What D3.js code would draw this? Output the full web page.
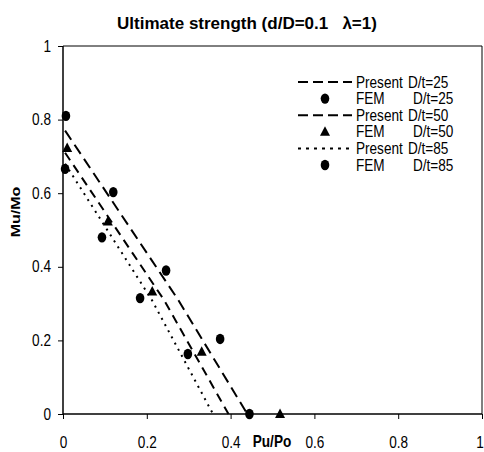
<!DOCTYPE html>
<html lang="en">
  <head>
    <meta charset="UTF-8" />
    <title>Ultimate strength</title>
    <style>
      body { margin: 0; background: #fff; }
      text { font-family: Arial, "Liberation Sans", sans-serif; fill: #000; white-space: pre; }
      .bold { font-weight: bold; }
    </style>
  </head>
  <body>
    <div id="chart"></div>
    <script src="https://d3js.org/d3.v7.min.js"></script>
    <script>
      // tick values
      var xTicks = [0, 0.2, 0.4, 0.6, 0.8, 1];
      var yTicks = [0, 0.2, 0.4, 0.6, 0.8, 1];

      // Present (analytical) curves, [Pu/Po, Mu/Mo]
      var present25 = [[0.005, 0.77], [0.275, 0.31], [0.44, 0]];
      var present50 = [[0.005, 0.71], [0.241, 0.31], [0.395, 0]];
      var present85 = [[0.005, 0.68], [0.212, 0.31], [0.358, 0]];

      // FEM points
      var fem25 = [[0.007, 0.81], [0.12, 0.603], [0.246, 0.39], [0.375, 0.204], [0.445, 0]];
      var fem50 = [[0.01, 0.723], [0.107, 0.523], [0.213, 0.333], [0.331, 0.169], [0.518, 0]];
      var fem85 = [[0.005, 0.666], [0.093, 0.48], [0.184, 0.315], [0.298, 0.163]];

      var legendItems = [
        { kind: "line", dash: "10,5", label: "Present", dt: "D/t=25" },
        { kind: "circle", label: "FEM", dt: "D/t=25" },
        { kind: "line", dash: "10,5", label: "Present", dt: "D/t=50" },
        { kind: "triangle", label: "FEM", dt: "D/t=50" },
        { kind: "line", dash: "3,5", label: "Present", dt: "D/t=85" },
        { kind: "circle", label: "FEM", dt: "D/t=85" }
      ];

      var sx = 0.85; // the original text is horizontally condensed

      var margin = { top: 46, right: 2, bottom: 38, left: 63 },
          width = 484 - margin.left - margin.right,
          height = 452 - margin.top - margin.bottom;

      var svg = d3.select("#chart").append("svg")
          .attr("width", 484)
          .attr("height", 452);

      function narrowText(parent, px, py, str, size) {
        return parent.append("text")
            .attr("x", px / sx).attr("y", py)
            .attr("transform", "scale(" + sx + ",1)")
            .attr("font-size", size)
            .text(str);
      }

      var g = svg.append("g")
          .attr("transform", "translate(" + margin.left + "," + margin.top + ")");

      var x = d3.scaleLinear().domain([0, 1]).range([0, width]);
      var y = d3.scaleLinear().domain([0, 1]).range([height, 0]);

      // box (top and right)
      g.append("path")
          .attr("d", "M0,0H" + width + "V" + height)
          .attr("fill", "none")
          .attr("stroke", "#000")
          .attr("stroke-width", 1);

      var fmt = function(d) { return d === 0 || d === 1 ? d : d.toFixed(1); };

      var xAxis = g.append("g")
          .attr("transform", "translate(0," + height + ")")
          .call(d3.axisBottom(x).tickValues(xTicks).tickSize(5).tickPadding(18).tickFormat(fmt));
      var yAxis = g.append("g")
          .call(d3.axisLeft(y).tickValues(yTicks).tickSize(5).tickPadding(7).tickFormat(fmt));

      xAxis.select(".domain").attr("stroke-width", 1.5).attr("d", "M0,0H" + width);
      yAxis.select(".domain").attr("stroke-width", 1.5).attr("d", "M0,0V" + height);
      [xAxis, yAxis].forEach(function(a) {
        a.attr("font-family", null).attr("font-size", null);
        a.selectAll(".tick line").attr("stroke-width", 1);
        a.selectAll(".tick text").attr("font-size", 16)
            .attr("transform", "scale(" + sx + ",1)");
      });
      yAxis.selectAll(".tick text").attr("x", -12 / sx);
      xAxis.selectAll(".tick text").filter(function(d) { return d === 1; }).attr("x", -2.5 / sx);

      var line = d3.line()
          .x(function(d) { return x(d[0]); })
          .y(function(d) { return y(d[1]); });

      g.append("path").datum(present25).attr("d", line)
          .attr("fill", "none").attr("stroke", "#000").attr("stroke-width", 2)
          .attr("stroke-dasharray", "11,6");
      g.append("path").datum(present50).attr("d", line)
          .attr("fill", "none").attr("stroke", "#000").attr("stroke-width", 2)
          .attr("stroke-dasharray", "9,6");
      g.append("path").datum(present85).attr("d", line)
          .attr("fill", "none").attr("stroke", "#000").attr("stroke-width", 2)
          .attr("stroke-dasharray", "2,5");

      function drawCircles(data) {
        g.selectAll(null).data(data).enter().append("ellipse")
            .attr("cx", function(d) { return x(d[0]); })
            .attr("cy", function(d) { return y(d[1]); })
            .attr("rx", 4.3).attr("ry", 5.2)
            .attr("fill", "#000");
      }
      drawCircles(fem25);
      drawCircles(fem85);

      var tri = "M0,-5.5L5,4L-5,4Z";
      g.selectAll(null).data(fem50).enter().append("path")
          .attr("d", tri)
          .attr("transform", function(d) { return "translate(" + x(d[0]) + "," + y(d[1]) + ")"; })
          .attr("fill", "#000");

      // legend
      var leg = svg.append("g").attr("transform", "translate(298,82)");
      legendItems.forEach(function(it, i) {
        var row = leg.append("g").attr("transform", "translate(0," + (i * 16.6) + ")");
        if (it.kind === "line") {
          row.append("line").attr("x1", 0).attr("x2", 54).attr("y1", 0).attr("y2", 0)
              .attr("stroke", "#000").attr("stroke-width", 2)
              .attr("stroke-dasharray", it.dash);
        } else if (it.kind === "circle") {
          row.append("ellipse").attr("cx", 27).attr("cy", 0).attr("rx", 4.3).attr("ry", 5.2).attr("fill", "#000");
        } else {
          row.append("path").attr("d", tri).attr("transform", "translate(27,0)").attr("fill", "#000");
        }
        narrowText(row, 58, 5.5, it.label, 16);
        narrowText(row, it.kind === "line" ? 110 : 115, 5.5, it.dt, 16);
      });

      // title and axis labels
      svg.append("text").attr("class", "bold")
          .attr("x", 247).attr("y", 29).attr("text-anchor", "middle")
          .attr("font-size", 17)
          .text("Ultimate strength (d/D=0.1   \u03bb=1)");

      svg.append("text").attr("class", "bold")
          .attr("transform", "translate(20,212) rotate(-90) scale(1," + sx + ")")
          .attr("text-anchor", "middle").attr("font-size", 16)
          .text("Mu/Mo");

      narrowText(svg, 272, 447, "Pu/Po", 16)
          .attr("class", "bold").attr("text-anchor", "middle");
    </script>
  </body>
</html>
